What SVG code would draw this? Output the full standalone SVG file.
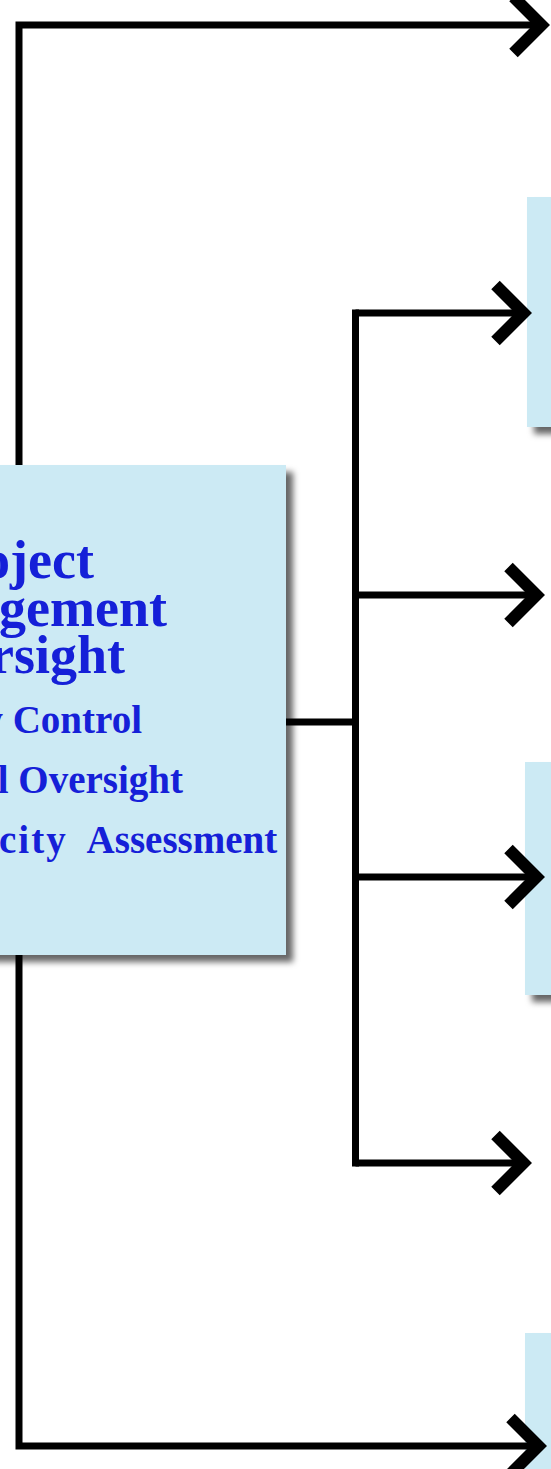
<svg xmlns="http://www.w3.org/2000/svg" width="551" height="1469" viewBox="0 0 551 1469">
  <style>
    .box { fill: #cceaf4; filter: url(#shadow); }
    .conn { fill: none; stroke: #000; stroke-width: 7; stroke-linecap: butt; }
    .trunk { fill: none; stroke: #000; stroke-width: 7; stroke-linecap: square; }
    .title { font-family: "Liberation Serif", "Times New Roman", serif; font-weight: bold; font-size: 54px; fill: #1520d8; text-anchor: end; }
    .item { font-family: "Liberation Serif", "Times New Roman", serif; font-weight: bold; font-size: 39px; fill: #1520d8; text-anchor: end; }
    .item-start { font-family: "Liberation Serif", "Times New Roman", serif; font-weight: bold; font-size: 39px; fill: #1520d8; text-anchor: start; }
  </style>
  <defs>
    <filter id="shadow" x="-20%" y="-20%" width="140%" height="140%">
      <feDropShadow dx="7" dy="7" stdDeviation="3" flood-color="#000" flood-opacity="0.6"/>
    </filter>
    <marker id="chev" markerUnits="userSpaceOnUse" markerWidth="60" markerHeight="80" viewBox="-40 -40 60 80" refX="0" refY="0" orient="auto" overflow="visible">
      <path d="M -28 -28 L 0 0 L -28 28" fill="none" stroke="#000" stroke-width="12" stroke-linejoin="miter" stroke-linecap="butt"/>
    </marker>
  </defs>
  <rect width="551" height="1469" fill="#ffffff"/>

  <g id="node-center">
    <rect class="box" x="-300" y="465" width="586" height="490"/>
    <text class="title" x="94" y="578">oject</text>
    <text class="title" x="167" y="626">gement</text>
    <text class="title" x="125" y="673">rsight</text>
    <text class="item" x="142" y="733">y Control</text>
    <text class="item" x="183" y="793">l Oversight</text>
    <text class="item-start" y="853"><tspan x="-1" letter-spacing="2">city</tspan><tspan x="79"> Assessment</tspan></text>
  </g>
  <g id="node-right-2">
    <rect class="box" x="527" y="197" width="100" height="230"/>
  </g>
  <g id="node-right-4">
    <rect class="box" x="525" y="762" width="100" height="233"/>
  </g>
  <g id="node-right-6">
    <rect class="box" x="525" y="1333" width="100" height="200"/>
  </g>

  <g id="connectors">
    <path class="conn" d="M 19 465 V 25 H 541.5" marker-end="url(#chev)"/>
    <path class="conn" d="M 19 955 V 1446 H 538.5" marker-end="url(#chev)"/>
    <path class="conn" d="M 286 722 H 356"/>
    <path class="trunk" d="M 355.5 313 V 1163"/>
    <path class="conn" d="M 355.5 313 H 523.5" marker-end="url(#chev)"/>
    <path class="conn" d="M 355.5 595 H 536.5" marker-end="url(#chev)"/>
    <path class="conn" d="M 355.5 877 H 536.5" marker-end="url(#chev)"/>
    <path class="conn" d="M 355.5 1163 H 523.5" marker-end="url(#chev)"/>
  </g>
</svg>
